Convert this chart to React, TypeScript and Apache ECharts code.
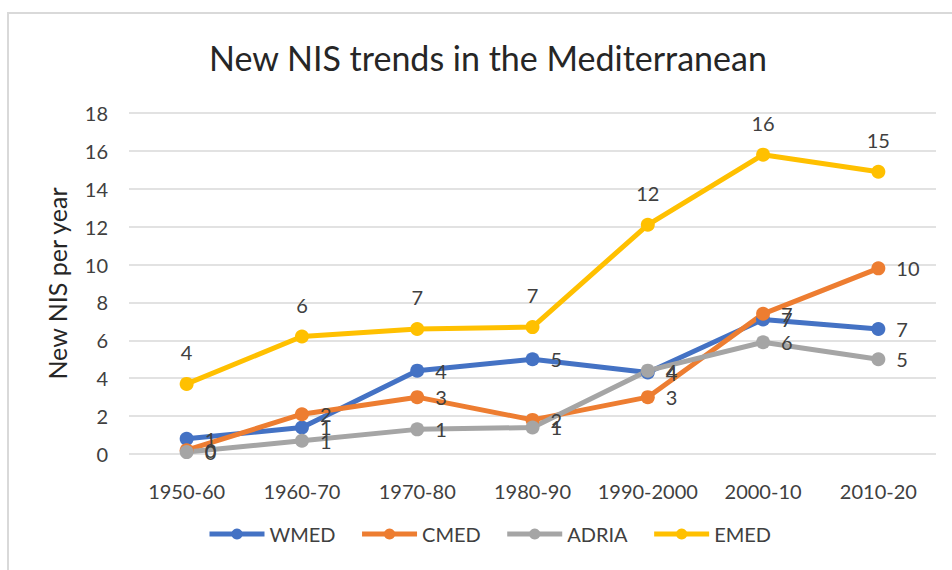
import React, { useEffect, useRef } from "react";
import * as echarts from "echarts";

const categories = ["1950-60", "1960-70", "1970-80", "1980-90", "1990-2000", "2000-10", "2010-20"];
const wmed = [0.8, 1.4, 4.4, 5.0, 4.3, 7.1, 6.6];
const cmed = [0.2, 2.1, 3.0, 1.8, 3.0, 7.4, 9.8];
const adria = [0.1, 0.7, 1.3, 1.4, 4.4, 5.9, 5.0];
const emed = [3.7, 6.2, 6.6, 6.7, 12.1, 15.8, 14.9];

const FONT = "Lato, 'Open Sans', sans-serif";
const TXT = "#404040";

function mkSeries(name: string, data: number[], color: string, pos: "right" | "top") {
  return {
    name,
    type: "line",
    data,
    symbol: "circle",
    symbolSize: 14,
    lineStyle: { color, width: 5 },
    itemStyle: { color },
    label: {
      show: true,
      position: pos,
      distance: pos === "right" ? 11 : 15,
      formatter: (p: any) => String(Math.round(p.value)),
      color: TXT,
      fontSize: 20,
      fontFamily: FONT,
    },
  };
}

export default function App() {
  const ref = useRef<HTMLDivElement>(null);
  useEffect(() => {
    if (!ref.current) return;
    const chart = echarts.init(ref.current, null, { renderer: "svg" });
    chart.setOption({
      animation: false,
      backgroundColor: "#ffffff",
      textStyle: { fontFamily: FONT },
      title: {
        text: "New NIS trends in the Mediterranean",
        left: 204,
        top: 35,
        textStyle: { fontSize: 34, fontWeight: "normal", color: "#262626", fontFamily: FONT },
      },
      graphic: [
        {
          type: "rect",
          shape: { x: 8, y: 13, width: 960, height: 580 },
          style: { fill: "none", stroke: "#d9d9d9", lineWidth: 2 },
          silent: true,
        },
      ],
      legend: {
        bottom: 21,
        left: 202,
        itemWidth: 55,
        itemHeight: 14,
        itemGap: 24,
        lineStyle: { width: 5 },
        textStyle: { fontSize: 20, color: TXT, fontFamily: FONT },
        data: ["WMED", "CMED", "ADRIA", "EMED"],
      },
      grid: { left: 129, right: 16, top: 113, bottom: 116 },
      xAxis: {
        type: "category",
        data: categories,
        boundaryGap: true,
        axisLine: { show: false },
        axisTick: { show: false },
        axisLabel: { color: TXT, fontSize: 20, margin: 27, interval: 0, fontFamily: FONT },
      },
      yAxis: {
        type: "value",
        min: 0,
        max: 18,
        interval: 2,
        name: "New NIS per year",
        nameLocation: "middle",
        nameGap: 60,
        nameRotate: 90,
        nameTextStyle: { fontSize: 25, color: "#262626", fontFamily: FONT },
        axisLine: { show: false },
        axisTick: { show: false },
        axisLabel: { color: TXT, fontSize: 20, margin: 21, fontFamily: FONT },
        splitLine: { lineStyle: { color: "#d9d9d9", width: 1.5 } },
      },
      series: [
        mkSeries("WMED", wmed, "#4472C4", "right"),
        mkSeries("CMED", cmed, "#ED7D31", "right"),
        mkSeries("ADRIA", adria, "#A5A5A5", "right"),
        mkSeries("EMED", emed, "#FFC000", "top"),
      ],
    });
    return () => chart.dispose();
  }, []);
  return (
    <div
      ref={ref}
      style={{ position: "fixed", left: 0, top: 0, width: 952, height: 570 }}
    />
  );
}
